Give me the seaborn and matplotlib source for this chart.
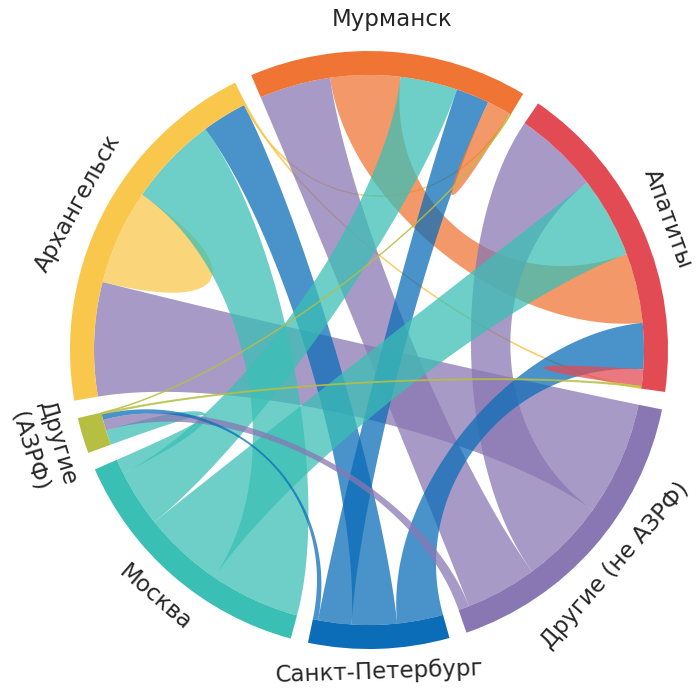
import numpy as np
import matplotlib
matplotlib.use("Agg")
import matplotlib.pyplot as plt
import seaborn as sns
from matplotlib.patches import Wedge, Polygon

# ---------------- data ----------------
nodes = ["Мурманск", "Апатиты", "Другие (не АЗРФ)", "Санкт-Петербург",
         "Москва", "Другие (АЗРФ)", "Архангельск"]
node_labels = ["Мурманск", "Апатиты", "Другие (не АЗРФ)", "Санкт-Петербург",
               "Москва", "Другие\n(АЗРФ)", "Архангельск"]
node_colors = ["#F07535", "#E24B53", "#8877B3", "#0B6CB8",
               "#3ABFB5", "#B7BF42", "#F9C74C"]

link_sources = ["Архангельск", "Архангельск", "Архангельск", "Архангельск",
                "Мурманск", "Апатиты",
                "Мурманск", "Апатиты", "Мурманск", "Мурманск", "Мурманск", "Мурманск",
                "Апатиты", "Апатиты", "Апатиты", "Апатиты", "Апатиты",
                "Другие (АЗРФ)", "Другие (АЗРФ)", "Другие (АЗРФ)"]
link_targets = ["Другие (не АЗРФ)", "Архангельск", "Москва", "Санкт-Петербург",
                "Архангельск", "Архангельск",
                "Другие (не АЗРФ)", "Мурманск", "Москва", "Санкт-Петербург", "Мурманск", "Другие (АЗРФ)",
                "Другие (не АЗРФ)", "Москва", "Санкт-Петербург", "Апатиты", "Другие (АЗРФ)",
                "Москва", "Другие (не АЗРФ)", "Санкт-Петербург"]
link_values = [24.0, 20.0, 19.0, 9.5,
               0.2, 0.2,
               15.0, 14.7, 12.0, 7.0, 5.0, 0.15,
               18.0, 17.0, 9.7, 3.5, 0.3,
               3.1, 2.3, 1.1]

# ---------------- layout ----------------
sns.set_theme(style="white")
plt.rcParams['font.family'] = ['DejaVu Sans']

W, H = 699, 689
cx, cy = 369.0, H - 350.0
R_OUT, R_IN = 299.0, 275.0
GAP = 3.4
START = 113.2
K = 0.52
ALPHA = 0.74

n = len(nodes)
idx = {name: i for i, name in enumerate(nodes)}
totals = np.zeros(n)
node_links = [[] for _ in range(n)]
for li, (s, t, v) in enumerate(zip(link_sources, link_targets, link_values)):
    si, ti = idx[s], idx[t]
    totals[si] += v
    node_links[si].append((li, v))
    if ti != si:
        totals[ti] += v
        node_links[ti].append((li, v))

scale = (360.0 - GAP * n) / totals.sum()

node_span = []
seg = {}  # (link, node) -> (a0, a1) clockwise
a = START
for i in range(n):
    s0 = a
    for li, v in sorted(node_links[i], key=lambda x: -x[1]):
        w = v * scale
        seg[(li, i)] = (a, a - w)
        a -= w
    node_span.append((s0, a))
    a -= GAP

center = np.array([cx, cy])


def P(ang, r=R_IN):
    t = np.radians(ang)
    return np.array([cx + r * np.cos(t), cy + r * np.sin(t)])


def arc_pts(a0, a1, r=R_IN, m=40):
    t = np.radians(np.linspace(a0, a1, m))
    return np.c_[cx + r * np.cos(t), cy + r * np.sin(t)]


def bez(p0, p3, m=80):
    c1 = center + K * (p0 - center)
    c2 = center + K * (p3 - center)
    t = np.linspace(0, 1, m)[:, None]
    return (1 - t) ** 3 * p0 + 3 * (1 - t) ** 2 * t * c1 + 3 * (1 - t) * t ** 2 * c2 + t ** 3 * p3


fig = plt.figure(figsize=(W / 100, H / 100), dpi=100)
ax = fig.add_axes([0, 0, 1, 1])
ax.set_xlim(0, W)
ax.set_ylim(0, H)
ax.axis("off")

# ribbons
for li, (s, t, v) in enumerate(zip(link_sources, link_targets, link_values)):
    si, ti = idx[s], idx[t]
    col = node_colors[ti]
    a0, a1 = seg[(li, si)]
    if si == ti:
        pts = np.vstack([arc_pts(a0, a1), bez(P(a1), P(a0))])
    else:
        b0, b1 = seg[(li, ti)]
        pts = np.vstack([arc_pts(a0, a1), bez(P(a1), P(b0)),
                         arc_pts(b0, b1), bez(P(b1), P(a0))])
    lw = 0.7 if v < 1 else 0
    ax.add_patch(Polygon(pts, closed=True, facecolor=col, edgecolor=col,
                         linewidth=lw, alpha=ALPHA, zorder=2))

# node arcs and labels
label_r = [331, 326, 327, 322, 327, 340, 326]
label_rot = [0, -70, None, None, None, None, 61]
for i in range(n):
    s0, e0 = node_span[i]
    ax.add_patch(Wedge((cx, cy), R_OUT, e0, s0, width=R_OUT - R_IN,
                       facecolor=node_colors[i], edgecolor="none", zorder=3))
    mid = (s0 + e0) / 2
    mm = mid % 360
    rot = mm - 90 if 0 < mm < 180 else mm + 90
    if label_rot[i] is not None:
        rot = label_rot[i]
    x, y = P(mid, label_r[i])
    ax.text(x, y, node_labels[i], rotation=rot, rotation_mode="anchor",
            ha="center", va="center", fontsize=16.5, color="#262626",
            linespacing=1.35, zorder=4)

fig.savefig("out.png", dpi=100, facecolor="white")
